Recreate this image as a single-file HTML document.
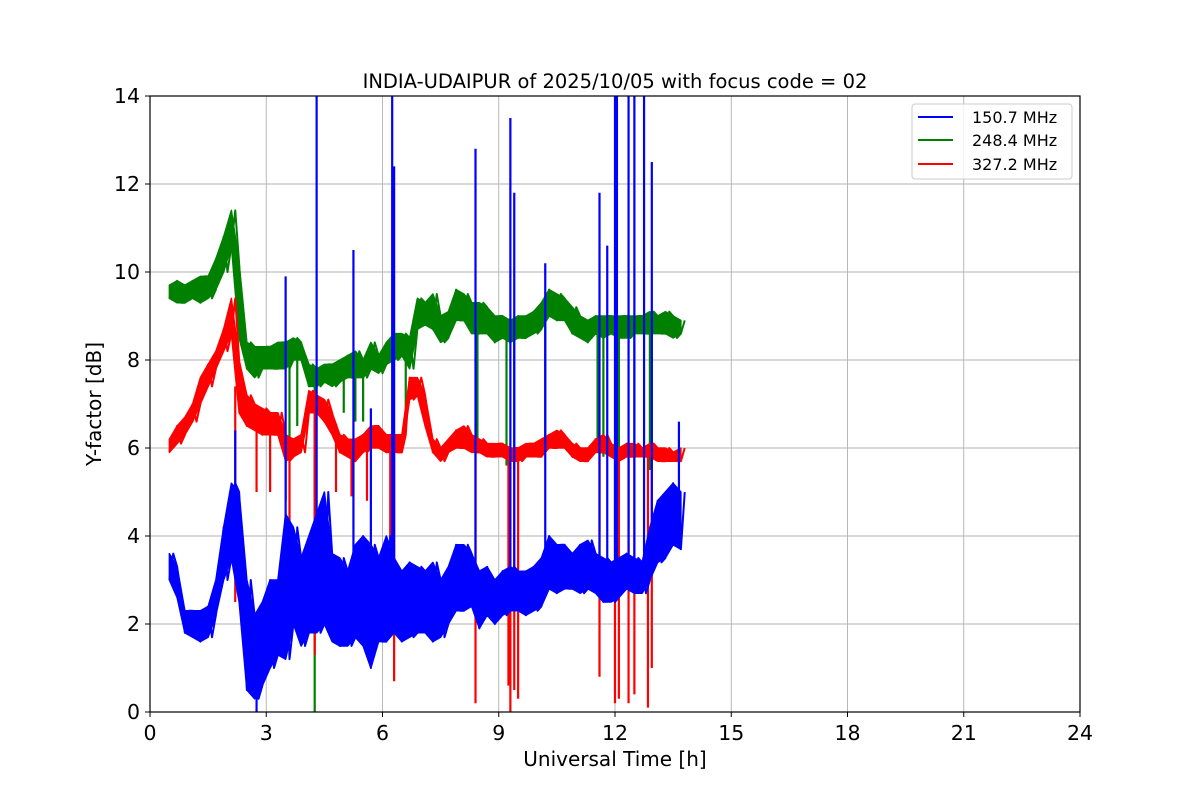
<!DOCTYPE html>
<html><head><meta charset="utf-8"><style>
body{margin:0;background:#fff}
svg{display:block;font-family:"DejaVu Sans","Liberation Sans",sans-serif}
</style></head><body>
<svg id="chart" width="1200" height="800">
<rect width="1200" height="800" fill="#fff"/>
<g id="grid"></g>
<g id="series"></g>
<rect x="150" y="96" width="930" height="616" fill="none" stroke="#000" stroke-width="1.2"/>
<g id="axes"></g>
<text x="615" y="88" font-size="19.5" text-anchor="middle">INDIA-UDAIPUR of 2025/10/05 with focus code = 02</text>
<text x="615" y="766" font-size="20" text-anchor="middle">Universal Time [h]</text>
<text transform="translate(101,404) rotate(-90)" font-size="20" text-anchor="middle">Y-factor [dB]</text>
<g>
<rect x="912" y="104" width="160" height="75" rx="3" fill="#fff" fill-opacity="0.8" stroke="#ccc"/>
<line x1="918" y1="117" x2="953" y2="117" stroke="#0000ff" stroke-width="2"/>
<text x="972" y="123" font-size="16">150.7 MHz</text>
<line x1="918" y1="140" x2="953" y2="140" stroke="#008000" stroke-width="2"/>
<text x="972" y="146" font-size="16">248.4 MHz</text>
<line x1="918" y1="164" x2="953" y2="164" stroke="#ff0000" stroke-width="2"/>
<text x="972" y="170" font-size="16">327.2 MHz</text>
</g>
</svg>
<script>
const xTicks=[0,3,6,9,12,15,18,21,24];
const yTicks=[0,2,4,6,8,10,12,14];
const t0=0.5, dt=0.2;
const blueLo=[3.0,2.6,1.8,1.7,1.6,1.7,2.2,3.0,3.5,2.5,0.5,0.3,0.6,1.0,1.3,1.2,2.0,1.5,1.8,1.8,2.0,1.6,1.5,1.5,1.7,1.5,1.0,1.6,1.6,1.8,1.6,1.7,1.8,1.8,1.6,1.7,2.0,2.3,2.3,2.4,1.9,2.2,2.0,2.2,2.3,2.3,2.2,2.3,2.4,2.8,2.7,2.8,2.8,2.7,2.8,2.7,2.5,2.5,2.6,2.8,2.7,2.7,3.0,3.4,3.5,3.8,3.7];
const blueHi=[3.6,3.3,2.3,2.3,2.3,2.4,3.0,4.2,5.2,5.0,3.0,2.2,2.5,3.0,3.0,4.5,4.2,3.5,4.0,4.5,5.0,3.6,3.5,3.2,3.8,4.0,3.8,3.5,4.0,3.5,3.2,3.4,3.3,3.2,3.4,3.0,3.3,3.8,3.8,3.6,3.2,3.3,3.0,3.2,3.3,3.2,3.2,3.3,3.5,4.0,3.8,3.8,3.6,3.8,3.9,3.6,3.5,3.4,3.5,3.6,3.5,3.4,4.2,4.8,5.0,5.2,5.0];
const blueSpikeT=[2.2,2.75,3.5,4.3,5.25,5.7,6.25,6.3,8.4,9.3,9.4,10.2,11.6,11.8,12.0,12.05,12.35,12.5,12.75,12.95,13.65];
const blueSpikeV=[6.4,0,9.9,14,10.5,6.9,14,12.4,12.8,13.5,11.8,10.2,11.8,10.6,14,14,14,14,14,12.5,6.6];
const greenLo=[9.4,9.3,9.3,9.4,9.3,9.4,9.6,10.0,10.6,8.5,7.8,7.6,7.8,7.8,7.8,7.8,8.0,8.0,7.4,7.4,7.5,7.4,7.5,7.6,7.6,7.6,7.8,7.7,7.9,8.0,8.1,7.8,8.7,8.8,8.7,8.4,8.5,8.9,8.9,8.6,8.6,8.6,8.4,8.5,8.4,8.5,8.5,8.6,8.7,9.0,8.9,8.9,8.6,8.5,8.4,8.6,8.5,8.6,8.5,8.5,8.6,8.6,8.6,8.6,8.6,8.5,8.6];
const greenHi=[9.7,9.8,9.7,9.8,9.9,9.9,10.3,10.8,11.4,10.2,8.4,8.3,8.3,8.3,8.4,8.4,8.5,8.4,7.9,7.8,7.9,7.9,8.0,8.1,8.2,8.0,8.4,8.1,8.4,8.6,8.6,8.5,9.4,9.3,9.5,9.0,9.1,9.6,9.5,9.3,9.3,9.2,9.0,9.0,8.9,9.0,9.0,9.1,9.3,9.6,9.5,9.4,9.2,9.0,8.9,9.0,9.0,9.0,9.0,9.0,9.0,9.0,9.1,9.0,9.1,9.0,8.9];
const greenSpikeT=[3.6,3.8,4.25,5.0,5.3,5.5,6.6,8.45,9.2,9.4,10.2,11.55,11.7,12.1,12.5,12.9,12.95];
const greenSpikeV=[6.0,6.5,0,6.8,6.6,6.6,6.8,6.0,5.6,5.5,5.9,5.9,5.8,4.8,5.9,5.5,5.8];
const redLo=[5.9,6.1,6.3,6.6,7.0,7.4,7.8,8.2,8.6,6.8,6.5,6.4,6.3,6.3,6.3,5.7,5.8,5.9,6.8,6.8,6.6,6.3,5.9,5.8,5.7,5.9,6.0,6.0,5.9,5.9,5.9,7.1,7.2,6.5,5.9,5.7,5.9,6.0,6.0,5.9,5.9,5.8,5.8,5.8,5.7,5.7,5.8,5.8,5.8,6.0,6.0,6.0,5.8,5.7,5.7,5.9,5.9,5.8,5.7,5.8,5.8,5.8,5.8,5.7,5.7,5.7,5.7];
const redHi=[6.2,6.5,6.7,7.0,7.6,7.9,8.2,8.7,9.4,8.0,7.2,7.0,6.9,6.8,6.8,6.3,6.2,6.3,7.3,7.2,7.1,6.8,6.3,6.2,6.2,6.3,6.5,6.5,6.3,6.3,6.3,7.6,7.6,7.2,6.2,6.0,6.2,6.4,6.5,6.3,6.2,6.1,6.1,6.1,6.0,6.0,6.1,6.1,6.2,6.3,6.4,6.3,6.1,6.0,6.0,6.2,6.3,6.1,6.0,6.1,6.1,6.0,6.1,6.0,6.0,5.9,6.0];
const redSpikeT=[2.2,2.75,3.1,3.5,3.6,4.25,4.8,5.2,5.6,6.2,6.3,8.4,9.25,9.3,9.4,9.5,11.6,12.0,12.1,12.35,12.5,12.85,12.95];
const redSpikeV=[2.5,5.0,5.0,4.8,2.0,1.3,5.0,4.9,4.8,3.8,0.7,0.2,0.6,0,0.5,0.3,0.8,0.2,0.3,0.2,0.4,0.1,1.0];

const NS='http://www.w3.org/2000/svg';
const X=t=>150+t*930/24, Y=v=>712-v*616/14;
const grid=document.getElementById('grid'), axes=document.getElementById('axes'), ser=document.getElementById('series');
function mk(tag,attrs,parent){const e=document.createElementNS(NS,tag);for(const k in attrs)e.setAttribute(k,attrs[k]);parent.appendChild(e);return e;}
xTicks.forEach(t=>{
  const g=mk('line',{x1:X(t),x2:X(t),y1:96,y2:712,stroke:'#b0b0b0','stroke-width':0.9},grid);
  
  
  const tk=mk('line',{x1:X(t),x2:X(t),y1:712,y2:717,stroke:'#000'},axes);
  
  
  const tx=mk('text',{x:X(t),y:740,'font-size':20.5,'text-anchor':'middle'},axes);tx.textContent=t;
  
  
});
yTicks.forEach(v=>{
  const g=mk('line',{x1:150,x2:1080,y1:Y(v),y2:Y(v),stroke:'#b0b0b0','stroke-width':0.9},grid);
  
  
  const tk=mk('line',{x1:145,x2:150,y1:Y(v),y2:Y(v),stroke:'#000'},axes);
  
  
  const tx=mk('text',{x:140,y:Y(v)+7,'font-size':20.5,'text-anchor':'end'},axes);tx.textContent=v;
  
  
});
function drawSeries(lo,hi,st,sv,color,name){
  const top=[],bot=[];
  for(let i=0;i<lo.length;i++){
    const t=t0+i*dt;
    top.push(X(t)+','+Y(hi[i]));
    bot.unshift(X(t)+','+Y(lo[i]));
  }
  const band=mk('polygon',{points:top.concat(bot).join(' '),fill:color,stroke:color,'stroke-width':1.5,'stroke-linejoin':'round'},ser);
  
  
  let pts=[];
  for(let i=0;i<lo.length;i++){
    const t=t0+i*dt;
    pts.push(X(t)+','+Y(i%2?hi[i]:lo[i]));
    pts.push(X(t+dt/2)+','+Y(i%2?lo[i]:hi[i]));
  }
  const p=mk('polyline',{points:pts.join(' '),fill:'none',stroke:color,'stroke-width':2,'stroke-linejoin':'round'},ser);
  
  
  st.forEach((t,j)=>{
    const i=Math.min(lo.length-1,Math.max(0,Math.round((t-t0)/dt)));
    const base=(lo[i]+hi[i])/2;
    const s=mk('line',{x1:X(t),x2:X(t),y1:Y(base),y2:Math.max(96,Y(sv[j])),stroke:color,'stroke-width':2.2},ser);
    
    
  });
}
drawSeries(greenLo,greenHi,greenSpikeT,greenSpikeV,'#008000','series-248');
drawSeries(redLo,redHi,redSpikeT,redSpikeV,'#ff0000','series-327');
drawSeries(blueLo,blueHi,blueSpikeT,blueSpikeV,'#0000ff','series-150');
</script>
</body></html>
